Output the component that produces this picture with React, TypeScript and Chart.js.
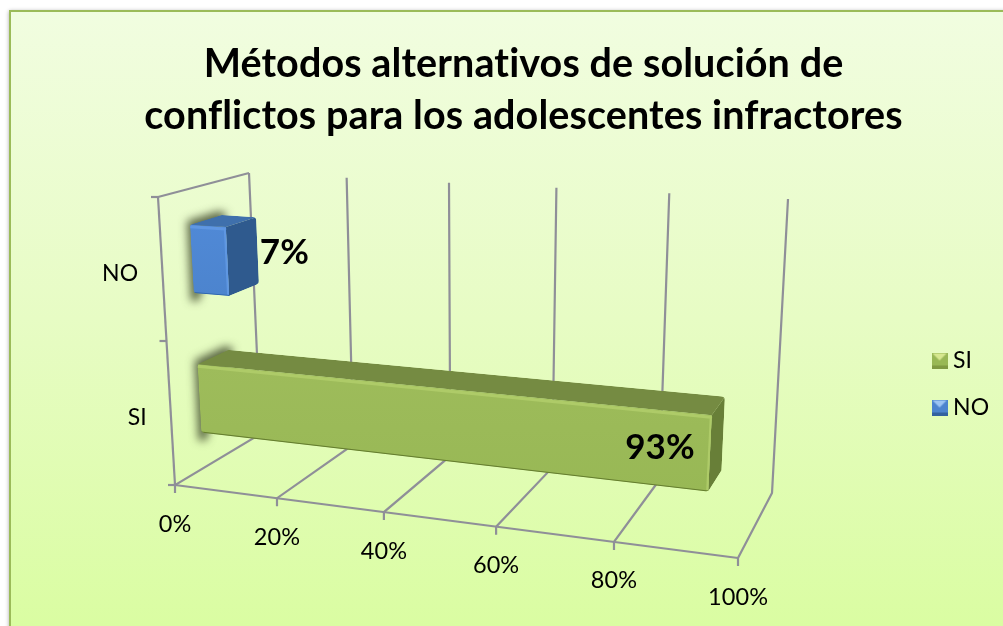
import React, { useEffect, useRef } from "react";
import { Chart, registerables } from "chart.js";

Chart.register(...registerables);

const categories = ["SI", "NO"];
const seriesSI = [93, null];
const seriesNO = [null, 7];
const titleLines = ["Métodos alternativos de solución de", "conflictos para los adolescentes infractores"];
const tickValuesMax = 100;
const tickStep = 20;

const FONT = "Lato, Carlito, sans-serif";
const GRID = "#8f8f98";

type P = [number, number];
// Screen frame of the 3D box (v=value side, d=depth, h=height)
const box = {
  f0: [175, 485] as P, b0: [260.5, 434] as P, t0: [249, 173] as P, u0: [158, 197] as P,
  f1: [738, 558] as P, b1: [772, 493] as P, t1: [788, 199] as P, u1: [755, 234] as P,
};
const DEPTH_FRONT = 0.33;
const DEPTH_BACK = 0.68;
const lerp = (a: P, b: P, t: number): P => [a[0] + (b[0] - a[0]) * t, a[1] + (b[1] - a[1]) * t];
const warp = (v: number) => v / (v + 1.13 * (1 - v));
function project(v: number, h: number, d: number): P {
  const t = warp(v);
  const left = lerp(lerp(box.f0, box.u0, h), lerp(box.b0, box.t0, h), d);
  const right = lerp(lerp(box.f1, box.u1, h), lerp(box.b1, box.t1, h), d);
  return lerp(left, right, t);
}

const faces: Record<string, { top: string; side: string; frontA: string; frontB: string; hi: string; lo: string; shadow: string }> = {
  SI: { top: "#758b42", side: "#687f38", frontA: "#9ebc5b", frontB: "#98b855", hi: "#aecb68", lo: "#667f30", shadow: "rgba(60,70,40,0.8)" },
  NO: { top: "#3f70ac", side: "#2f5a8e", frontA: "#5089d6", frontB: "#4c84ce", hi: "#5f97e2", lo: "#2f66ad", shadow: "rgba(60,70,40,0.8)" },
};
const labelOffsets: Record<string, P> = { SI: [-50, -6], NO: [57, -9] };

function poly(ctx: CanvasRenderingContext2D, pts: P[]) {
  ctx.beginPath();
  pts.forEach((p, i) => (i ? ctx.lineTo(p[0], p[1]) : ctx.moveTo(p[0], p[1])));
  ctx.closePath();
}
function roundPoly(ctx: CanvasRenderingContext2D, pts: P[], r: number) {
  ctx.beginPath();
  const n = pts.length;
  const m = lerp(pts[n - 1], pts[0], 0.5);
  ctx.moveTo(m[0], m[1]);
  for (let i = 0; i < n; i++) {
    const a = pts[i];
    const b = pts[(i + 1) % n];
    ctx.arcTo(a[0], a[1], b[0], b[1], r);
  }
  ctx.closePath();
}
function line(ctx: CanvasRenderingContext2D, a: P, b: P) {
  ctx.beginPath();
  ctx.moveTo(a[0], a[1]);
  ctx.lineTo(b[0], b[1]);
  ctx.stroke();
}

function legendIcon(color: string, light: string, dark: string) {
  const c = document.createElement("canvas");
  c.width = 16;
  c.height = 16;
  const g = c.getContext("2d")!;
  g.fillStyle = color;
  g.fillRect(0, 0, 16, 16);
  g.fillStyle = light;
  g.beginPath();
  g.moveTo(1, 1);
  g.lineTo(15, 1);
  g.lineTo(8, 8);
  g.closePath();
  g.fill();
  g.fillStyle = dark;
  g.fillRect(0, 13, 16, 3);
  return c;
}

const frame3d = {
  id: "frame3d",
  beforeDraw(chart: any) {
    const { ctx, width, height } = chart;
    (ctx as any).letterSpacing = "0.1px";
    ctx.save();
    ctx.fillStyle = "#ffffff";
    ctx.fillRect(0, 0, width, height);
    ctx.shadowColor = "rgba(0,0,0,0.35)";
    ctx.shadowBlur = 4;
    ctx.shadowOffsetX = -1;
    const g = ctx.createLinearGradient(0, 11, 0, height);
    g.addColorStop(0, "#f1fde0");
    g.addColorStop(0.5, "#e7fcc4");
    g.addColorStop(1, "#dafda2");
    ctx.fillStyle = g;
    ctx.fillRect(10, 11, width + 20, height);
    ctx.shadowColor = "transparent";
    ctx.strokeStyle = "#9bbb59";
    ctx.lineWidth = 2;
    ctx.strokeRect(10, 11, width + 20, height + 10);
    ctx.restore();
  },
  beforeDatasetsDraw(chart: any) {
    const { ctx, chartArea: ca, scales } = chart;
    const x = scales.x;
    const y = scales.y;
    ctx.save();
    ctx.strokeStyle = GRID;
    ctx.lineWidth = 2.2;
    ctx.lineCap = "butt";
    // value gridlines: back wall + floor + tick
    x.ticks.forEach((tick: any, i: number) => {
      const v = (x.getPixelForTick(i) - ca.left) / ca.width;
      const top = project(v, 1, 1);
      const back = project(v, 0, 1);
      const front = project(v, 0, 0);
      ctx.beginPath();
      ctx.moveTo(top[0], top[1]);
      ctx.lineTo(back[0], back[1]);
      ctx.lineTo(front[0], front[1]);
      ctx.lineTo(front[0], front[1] + 8);
      ctx.stroke();
    });
    // left wall and front axis
    line(ctx, project(0, 1, 0), project(0, 1, 1));
    line(ctx, project(0, 1, 0), project(0, 0, 0));
    line(ctx, project(0, 0, 0), project(1, 0, 0));
    const n = y.ticks.length;
    for (let i = 0; i <= n; i++) {
      const p = project(0, i / n, 0);
      line(ctx, p, [p[0] - 7, p[1]]);
    }
    // tick labels
    ctx.fillStyle = "#000";
    ctx.font = `23.5px ${FONT}`;
    ctx.textAlign = "center";
    ctx.textBaseline = "middle";
    x.ticks.forEach((tick: any, i: number) => {
      const v = (x.getPixelForTick(i) - ca.left) / ca.width;
      const p = project(v, 0, 0);
      ctx.fillText(tick.label, p[0], p[1] + 39);
    });
    ctx.textAlign = "right";
    ctx.font = `23px ${FONT}`;
    y.ticks.forEach((tick: any, i: number) => {
      const h = (ca.bottom - y.getPixelForTick(i)) / ca.height;
      const p = project(0, h, 0);
      ctx.fillText(tick.label, p[0] - 24, p[1] + 5);
    });
    ctx.restore();
  },
  beforeDatasetDraw() {
    return false;
  },
  afterDatasetsDraw(chart: any) {
    const { ctx, chartArea: ca } = chart;
    chart.data.datasets.forEach((ds: any, di: number) => {
      const meta = chart.getDatasetMeta(di);
      const c = faces[ds.label];
      meta.data.forEach((el: any, i: number) => {
        const value = ds.data[i];
        if (value == null) return;
        const v0 = (el.base - ca.left) / ca.width;
        const v1 = (el.x - ca.left) / ca.width;
        const h0 = (ca.bottom - (el.y + el.height / 2)) / ca.height;
        const h1 = (ca.bottom - (el.y - el.height / 2)) / ca.height;
        const dF = DEPTH_FRONT;
        const dB = DEPTH_BACK;
        const tl = project(v0, h1, dF);
        const tr = project(v1, h1, dF);
        const bl = project(v0, h0, dF);
        const br = project(v1, h0, dF);
        const btl = project(v0, h1, dB);
        const btr = project(v1, h1, dB);
        const bbr = project(v1, h0, dB);
        const outline: P[] = [tl, btl, btr, bbr, br, bl];
        ctx.save();
        // soft shadow only (shape itself is drawn off-canvas)
        ctx.save();
        ctx.shadowColor = c.shadow;
        ctx.shadowBlur = 8;
        ctx.shadowOffsetX = 3000 - 3;
        ctx.shadowOffsetY = -4;
        ctx.fillStyle = "#000";
        const off3d = (p: P, dx = 0, dy = 0): P => [p[0] - 3000 + dx, p[1] + dy];
        poly(ctx, [off3d(tl), off3d(btl), off3d(btl, 8, 2), off3d(bl, 8, 12), off3d(bl, 0, 12)]);
        ctx.fill();
        ctx.restore();
        // clip all faces to the rounded silhouette
        ctx.save();
        roundPoly(ctx, outline, 4);
        ctx.clip();
        ctx.fillStyle = c.top;
        poly(ctx, [tl, btl, btr, tr]);
        ctx.fill();
        ctx.fillStyle = c.side;
        poly(ctx, [tr, btr, bbr, br]);
        ctx.fill();
        const g = ctx.createLinearGradient(0, tl[1], 0, br[1]);
        g.addColorStop(0, c.frontA);
        g.addColorStop(1, c.frontB);
        ctx.fillStyle = g;
        poly(ctx, [tl, tr, br, bl]);
        ctx.fill();
        // bevels
        ctx.lineCap = "round";
        ctx.lineWidth = 3;
        ctx.strokeStyle = c.hi;
        line(ctx, [tl[0], tl[1] + 2], [tr[0] - 1, tr[1] + 2]);
        ctx.lineWidth = 2;
        line(ctx, [tr[0] - 1, tr[1] + 2], [br[0] - 1, br[1] - 2]);
        ctx.strokeStyle = c.lo;
        line(ctx, [bl[0], bl[1]], [br[0], br[1]]);
        ctx.restore();
        // value label
        const mid = project(v1, (h0 + h1) / 2, dF);
        const off = labelOffsets[ds.label];
        ctx.fillStyle = "#000";
        ctx.font = `bold 35px ${FONT}`;
        ctx.textAlign = "center";
        ctx.textBaseline = "middle";
        ctx.fillText(`${value}%`, mid[0] + off[0], mid[1] + off[1]);
        ctx.restore();
      });
    });
  },
};

export default function App() {
  const ref = useRef<HTMLCanvasElement>(null);
  useEffect(() => {
    document.body.style.margin = "0";
    const icons: Record<string, HTMLCanvasElement> = {
      SI: legendIcon("#98b855", "#d6e88f", "#7f9a42"),
      NO: legendIcon("#4c84ce", "#9cc4f2", "#32629f"),
    };
    const chart = new Chart(ref.current!, {
      type: "bar",
      data: {
        labels: categories,
        datasets: [
          { label: "SI", data: seriesSI, backgroundColor: "#9bbb59" },
          { label: "NO", data: seriesNO, backgroundColor: "#4f81bd" },
        ],
      },
      plugins: [frame3d],
      options: {
        indexAxis: "y",
        responsive: false,
        animation: false,
        categoryPercentage: 0.49,
        barPercentage: 1,
        layout: { padding: { left: 48, right: 4, top: 0, bottom: 0 } },
        scales: {
          x: {
            display: false,
            stacked: true,
            min: 0,
            max: tickValuesMax,
            ticks: { stepSize: tickStep, callback: (v: any) => `${v}%` },
          },
          y: { display: false, stacked: true, reverse: true },
        },
        plugins: {
          tooltip: { enabled: false },
          title: {
            display: true,
            text: titleLines,
            color: "#000",
            font: { family: FONT, size: 39.5, weight: "bold", lineHeight: 52 / 39.5 },
            padding: { top: 38, bottom: 0 },
          },
          legend: {
            position: "right",
            fullSize: false,
            labels: {
              usePointStyle: true,
              boxWidth: 4,
              boxHeight: 16,
              padding: 24,
              color: "#000",
              font: { family: FONT, size: 23 },
              generateLabels: (c: any) =>
                c.data.datasets.map((d: any, i: number) => ({
                  text: d.label,
                  fillStyle: d.backgroundColor,
                  pointStyle: icons[d.label],
                  datasetIndex: i,
                  hidden: false,
                  lineWidth: 0,
                  strokeStyle: "transparent",
                  fontColor: "#000",
                })),
            },
          },
        },
      },
    } as any);
    return () => chart.destroy();
  }, []);
  return (
    <div style={{ position: "absolute", left: 0, top: 0, width: 1003, height: 626, overflow: "hidden" }}>
      <canvas ref={ref} width={1003} height={626} style={{ display: "block" }} />
    </div>
  );
}
